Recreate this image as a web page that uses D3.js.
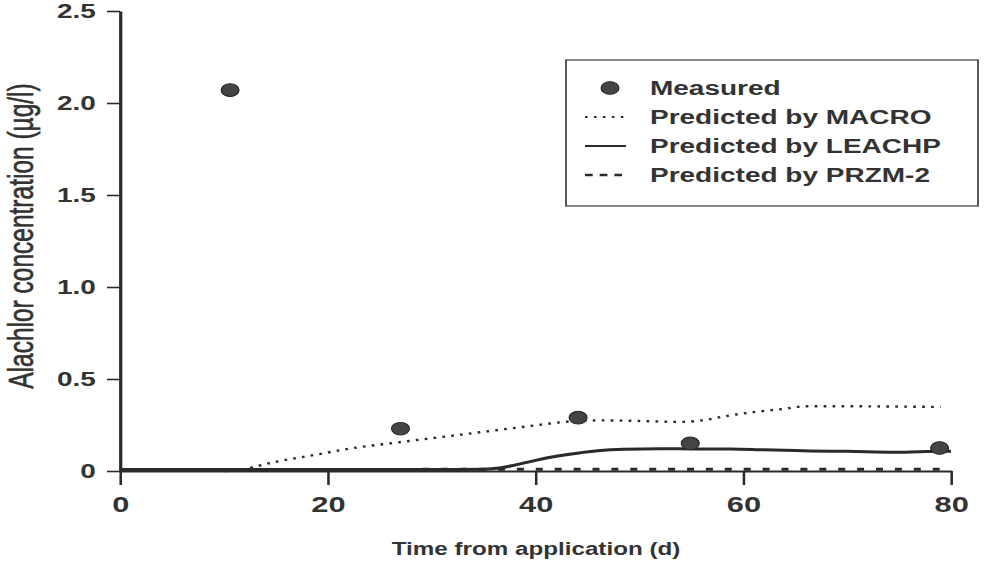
<!DOCTYPE html>
<html>
<head>
<meta charset="utf-8">
<script src="https://cdn.jsdelivr.net/npm/d3@7"></script>
<style>
  html, body { margin: 0; padding: 0; background: #fff; }
  svg { display: block; }
  text { font-family: "Liberation Sans", Arial, Helvetica, sans-serif; fill: #333; }
</style>
</head>
<body>
<svg id="chart" width="1001" height="573"></svg>
<script>
// Measured alachlor concentrations
const measuredDay  = [10.6, 27.0, 44.1, 54.9, 78.9];
const measuredConc = [2.07, 0.23, 0.29, 0.15, 0.125];

// MACRO prediction (dotted)
const macroDay  = [10, 11, 15, 19, 22.5, 26.7, 31, 36, 40, 43, 46, 50, 54, 56, 58.5, 61, 63.8, 66, 70, 75, 79];
const macroConc = [0, 0.003, 0.05, 0.09, 0.125, 0.155, 0.185, 0.22, 0.248, 0.268, 0.275, 0.272, 0.267, 0.275, 0.30, 0.32, 0.337, 0.352, 0.352, 0.35, 0.348];

// LEACHP prediction (solid)
const leachDay  = [0, 10, 20, 30, 35, 36.5, 38, 40, 42, 44, 46, 48.5, 52, 55.6, 58.8, 62, 66.4, 70, 74.6, 77, 80];
const leachConc = [0.008, 0.008, 0.008, 0.008, 0.01, 0.016, 0.032, 0.058, 0.08, 0.097, 0.11, 0.118, 0.121, 0.12, 0.12, 0.115, 0.109, 0.107, 0.102, 0.105, 0.108];

// PRZM-2 prediction (dashed)
const przmDay  = [0, 20, 40, 60, 79];
const przmConc = [0.008, 0.008, 0.01, 0.01, 0.01];

// Axis ticks and labels
const xTicks = [0, 20, 40, 60, 80];
const yTicks = [0, 0.5, 1.0, 1.5, 2.0, 2.5];
const yTickLabels = ["0", "0.5", "1.0", "1.5", "2.0", "2.5"];
const legendLabels = ["Measured", "Predicted by MACRO", "Predicted by LEACHP", "Predicted by PRZM-2"];
const xTitle = "Time from application (d)";
const yTitle = "Alachlor concentration (\u00b5g/l)";

// The figure is drawn in a horizontally widened frame
const sx = 1.4;
const ink = "#2a2a2a";

const svg = d3.select("#chart");
svg.append("rect").attr("width", 1001).attr("height", 573).attr("fill", "#fff");
const g = svg.append("g").attr("transform", `scale(${sx},1)`);

const x = d3.scaleLinear().domain([0, 80]).range([120 / sx, 951 / sx]);
const y = d3.scaleLinear().domain([0, 2.5]).range([471, 11]);

// Y axis
const yAxis = d3.axisLeft(y)
  .tickValues(yTicks)
  .tickFormat((d, i) => yTickLabels[i])
  .tickSize(13 / sx)
  .tickSizeOuter(0)
  .tickPadding(8);
const yg = g.append("g").attr("transform", `translate(${x(0)},0)`).call(yAxis);
yg.select(".domain").attr("stroke", ink).attr("stroke-width", 2.3);
yg.selectAll(".tick line").attr("stroke", ink).attr("stroke-width", 1.6);
yg.selectAll(".tick text")
  .attr("font-size", 20).attr("font-weight", "bold")
  .attr("fill", "#333").attr("font-family", "Liberation Sans, Arial, sans-serif");

// X axis
const xAxis = d3.axisBottom(x)
  .tickValues(xTicks)
  .tickFormat(d3.format("d"))
  .tickSize(14)
  .tickSizeOuter(0)
  .tickPadding(11);
const xg = g.append("g").attr("transform", `translate(0,${y(0)})`).call(xAxis);
xg.select(".domain").attr("stroke", ink).attr("stroke-width", 2);
xg.selectAll(".tick line").attr("stroke", ink).attr("stroke-width", 1.8);
xg.selectAll(".tick text")
  .attr("font-size", 22).attr("font-weight", "bold")
  .attr("fill", "#333").attr("font-family", "Liberation Sans, Arial, sans-serif");

// Axis titles
g.append("text")
  .attr("transform", `translate(${536 / sx},555) scale(0.93,1)`)
  .attr("text-anchor", "middle")
  .attr("font-size", 18.6).attr("font-weight", "bold")
  .text(xTitle);
g.append("text")
  .attr("transform", `translate(${33 / sx},236) rotate(-90)`)
  .attr("text-anchor", "middle")
  .attr("font-size", 24.5)
  .attr("stroke", "#333").attr("stroke-width", 0.45)
  .text(yTitle);

// Model curves
const lineGen = d3.line().x(d => x(d[0])).y(d => y(d[1])).curve(d3.curveMonotoneX);
const zip = (a, b) => a.map((v, i) => [v, b[i]]);

g.append("path").datum(zip(przmDay, przmConc))
  .attr("d", lineGen).attr("fill", "none")
  .attr("stroke", ink).attr("stroke-width", 3)
  .attr("stroke-dasharray", "5 8.5");

g.append("path").datum(zip(leachDay, leachConc))
  .attr("d", lineGen).attr("fill", "none")
  .attr("stroke", ink).attr("stroke-width", 3);

g.append("path").datum(zip(macroDay, macroConc))
  .attr("d", lineGen).attr("fill", "none")
  .attr("stroke", ink).attr("stroke-width", 2.4)
  .attr("stroke-dasharray", "1.9 4.5");

// Measured points
g.selectAll("circle.meas").data(zip(measuredDay, measuredConc)).join("circle")
  .attr("class", "meas")
  .attr("cx", d => x(d[0])).attr("cy", d => y(d[1]))
  .attr("r", 6.4).attr("fill", "#444").attr("stroke", "#222").attr("stroke-width", 0.8);

// Legend
const lg = g.append("g");
lg.append("rect")
  .attr("x", 566 / sx).attr("y", 60)
  .attr("width", (978 - 566) / sx).attr("height", 206 - 60)
  .attr("fill", "none").attr("stroke", "#555").attr("stroke-width", 1.4);

const rowY = [88, 117, 146, 175];
const sampleX0 = 585 / sx, sampleX1 = 626 / sx;
lg.append("circle").attr("cx", 610 / sx).attr("cy", rowY[0]).attr("r", 6.4)
  .attr("fill", "#444").attr("stroke", "#222").attr("stroke-width", 0.8);
lg.append("line").attr("x1", sampleX0).attr("x2", sampleX1).attr("y1", rowY[1]).attr("y2", rowY[1])
  .attr("stroke", ink).attr("stroke-width", 2.2).attr("stroke-dasharray", "1.8 4.6");
lg.append("line").attr("x1", sampleX0).attr("x2", sampleX1).attr("y1", rowY[2]).attr("y2", rowY[2])
  .attr("stroke", ink).attr("stroke-width", 2.2);
lg.append("line").attr("x1", sampleX0).attr("x2", sampleX1).attr("y1", rowY[3]).attr("y2", rowY[3])
  .attr("stroke", ink).attr("stroke-width", 2.6).attr("stroke-dasharray", "5.5 5");

lg.selectAll("text.leg").data(legendLabels).join("text")
  .attr("class", "leg")
  .attr("x", 650 / sx).attr("y", (d, i) => rowY[i])
  .attr("dy", "0.36em")
  .attr("font-size", 20).attr("font-weight", "bold")
  .text(d => d);
</script>
</body>
</html>
